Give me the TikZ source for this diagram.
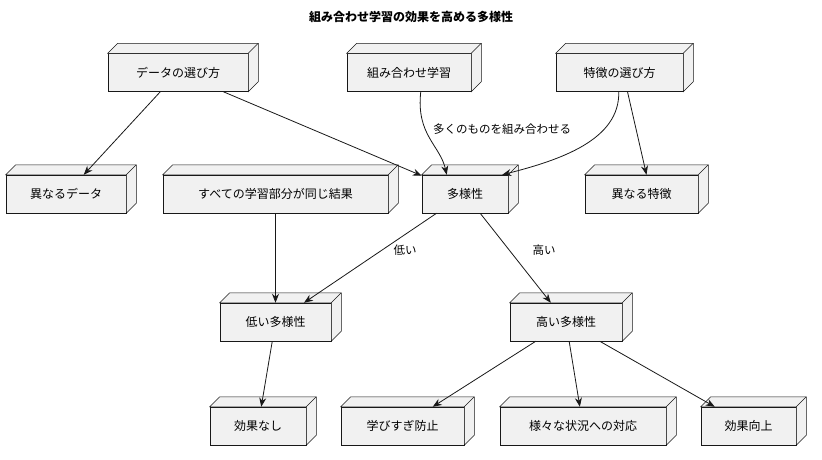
\documentclass[tikz,border=0pt]{standalone}
\usepackage{fontspec}
\setmainfont{Noto Sans CJK JP}
\usetikzlibrary{arrows.meta}
\definecolor{bx}{HTML}{F1F1F1}
\definecolor{ln}{HTML}{181818}
\tikzset{
 box/.style={draw=ln,fill=bx,line width=0.5pt,minimum height=38pt,inner sep=0pt,font=\fontsize{12}{14}\selectfont},
 arr/.style={draw=ln,line width=0.8pt,-{Stealth[length=9pt,width=7pt]}},
 lab/.style={font=\fontsize{11.5}{13}\selectfont}
}
\newcommand\cube[4]{%
 \node[box,minimum width=#3pt](#1) at (#2) {#4};
 \draw[draw=ln,fill=bx,line width=0.5pt] (#1.north west) -- ++(10,-10) -- ([shift={(10,-10)}]#1.north east) -- ([shift={(10,-10)}]#1.south east) -- (#1.south east) -- (#1.north east) -- cycle;
 \draw[ln,line width=0.5pt] (#1.north east) -- ++(10,-10);}
\begin{document}
\begin{tikzpicture}[x=1pt,y=-1pt]
\useasboundingbox (0,0) rectangle (822,459);
\node[font=\bfseries\fontsize{12}{14}\selectfont] (t) at (411,17) {組み合わせ学習の効果を高める多様性};
\cube{a}{178,72.5}{140}{データの選び方}
\cube{b}{409,72.5}{124}{組み合わせ学習}
\cube{c}{619.5,72.5}{127}{特徴の選び方}
\cube{d}{66,194}{120}{異なるデータ}
\cube{e}{275.5,194}{225}{すべての学習部分が同じ結果}
\cube{f}{465,194}{86}{多様性}
\cube{g}{641.5,194}{113}{異なる特徴}
\cube{h}{275.5,322}{111}{低い多様性}
\cube{i}{566,322}{112}{高い多様性}
\cube{j}{258,426}{96}{効果なし}
\cube{k}{402.5,426}{123}{学びすぎ防止}
\cube{l}{583,426}{166}{様々な状況への対応}
\cube{m}{748.5,426}{95}{効果向上}
\draw[arr] (a) -- (d);
\draw[arr] (a) -- (f);
\draw[arr] ([xshift=74pt]b.south west) .. controls (416,135) and (440,145) .. ([xshift=25pt]f.north west);
\draw[arr] ([xshift=63pt]c.south west) .. controls (620,140) and (560,160) .. ([xshift=-6pt]f.north east);
\node[lab] (l1) at (502,129) {多くのものを組み合わせる};
\draw[arr] ([xshift=8pt]c.south) -- ([xshift=5pt]g.north);
\draw[arr] (e) -- (h);
\draw[arr] (f) -- (h);
\draw[arr] (f) -- (i);
\node[lab] (l2) at (405,250) {低い};
\node[lab] (l3) at (544,250) {高い};
\draw[arr] (h) -- (j);
\draw[arr] (i) -- (k);
\draw[arr] (i) -- (l);
\draw[arr] (i) -- (m);
\end{tikzpicture}
\end{document}
